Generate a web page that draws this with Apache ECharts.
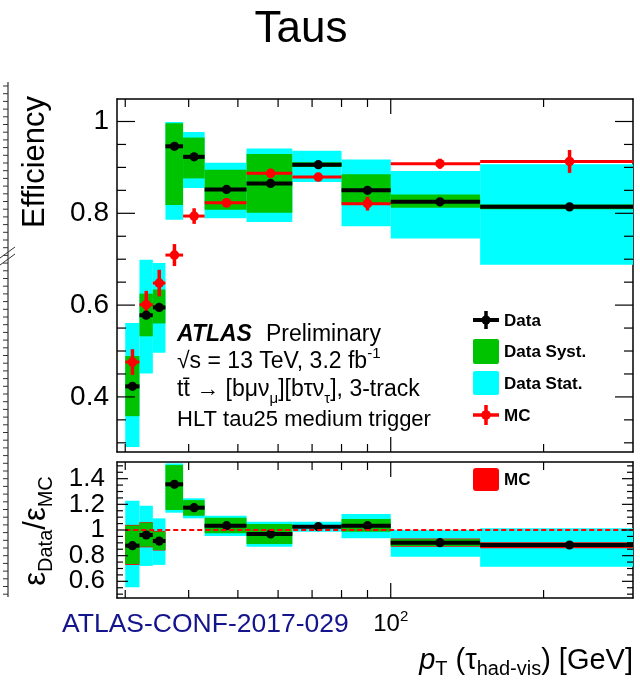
<!DOCTYPE html>
<html>
<head>
<meta charset="utf-8">
<script src="https://cdn.jsdelivr.net/npm/echarts@6/dist/echarts.min.js"></script>
<style>
  html, body { margin: 0; padding: 0; background: #fff; }
  #chart { width: 640px; height: 681px; }
</style>
</head>
<body>
<div id="chart"></div>
<script>
// ---- Tau trigger efficiency vs pT (3-track), data vs MC ----

// pT bin edges [GeV]
const binEdges = [30, 32, 34, 36, 39, 43, 52, 64, 80, 100, 150, 300];

// Efficiency (upper panel)
const dataEff = [0.423, 0.578, 0.595, 0.946, 0.923, 0.852, 0.865, 0.906, 0.850, 0.825, 0.814];
const statLo  = [0.291, 0.451, 0.496, 0.786, 0.855, 0.789, 0.781, 0.868, 0.772, 0.745, 0.688];
const statHi  = [0.561, 0.699, 0.692, 0.999, 0.977, 0.910, 0.941, 0.936, 0.917, 0.892, 0.907];
const systLo  = [0.358, 0.532, 0.560, 0.818, 0.876, 0.808, 0.801, 0.901, 0.821, 0.812, 0.809];
const systHi  = [0.489, 0.625, 0.634, 0.996, 0.965, 0.895, 0.929, 0.911, 0.885, 0.841, 0.819];
const mcEff   = [0.476, 0.601, 0.648, 0.709, 0.794, 0.823, 0.887, 0.879, 0.821, 0.908, 0.913];
const mcErr   = [0.028, 0.030, 0.029, 0.024, 0.017, 0.010, 0.010, 0.009, 0.015, 0.011, 0.025];

// Data / MC ratio (lower panel)
const ratio    = [0.878, 0.961, 0.914, 1.356, 1.174, 1.034, 0.969, 1.026, 1.034, 0.901, 0.883];
const rStatLo  = [0.554, 0.720, 0.728, 1.135, 1.091, 0.953, 0.870, 0.987, 0.935, 0.792, 0.714];
const rStatHi  = [1.228, 1.189, 1.091, 1.519, 1.247, 1.111, 1.065, 1.065, 1.125, 1.000, 1.013];
const rSystLo  = [0.735, 0.870, 0.844, 1.156, 1.111, 0.974, 0.891, 1.016, 0.987, 0.875, 0.878];
const rSystHi  = [1.035, 1.057, 0.987, 1.506, 1.233, 1.096, 1.047, 1.036, 1.086, 0.928, 0.888];
const rMcLo    = [0.728, 0.865, 0.840, 1.348, 1.166, 1.026, 0.961, 1.018, 1.026, 0.870, 0.858];
const rMcHi    = [1.040, 1.061, 0.992, 1.364, 1.182, 1.042, 0.977, 1.034, 1.042, 0.933, 0.904];
const unityLevel = 1;

// Axis ranges and tick values
const X_MIN = 28.9, X_MAX = 300;
const EFF_MIN = 0.28, EFF_MAX = 1.049;
const RATIO_MIN = 0.47, RATIO_MAX = 1.53;
const xMajorTicks = [100];
const xMinorTicks = [30, 40, 50, 60, 70, 80, 90, 200];
const effMajorTicks = [0.4, 0.6, 0.8, 1];
const effMinorTicks = [0.3, 0.35, 0.45, 0.5, 0.55, 0.65, 0.7, 0.75, 0.85, 0.9, 0.95];
const ratioMajorTicks = [0.6, 0.8, 1, 1.2, 1.4];
const ratioMinorTicks = [0.5, 0.55, 0.65, 0.7, 0.75, 0.85, 0.9, 0.95, 1.05, 1.1, 1.15, 1.25, 1.3, 1.35, 1.45, 1.5];

const FONT = '"Liberation Sans", Arial, Helvetica, sans-serif';
const CYAN = '#00ffff', GREEN = '#00c300', RED = '#ff0000', BLACK = '#000000';
const FRAME_W = 1.5, TICK_W = 1.2;

// bottom (labelled) and top x axes of one panel
function xAxes(gridIndex, withLabel) {
  const base = {
    gridIndex, type: 'log', logBase: 10, min: X_MIN, max: X_MAX,
    splitLine: { show: false }, axisTick: { show: false },
    axisLine: { show: true, onZero: false, lineStyle: { color: BLACK, width: FRAME_W } }
  };
  const label = withLabel ? {
    show: true, customValues: xMajorTicks, margin: 11,
    fontFamily: FONT, fontSize: 24, color: BLACK, lineHeight: 30,
    formatter: v => Math.round(Math.log10(v)) === 2 ? '10{sup|2}' : String(v),
    rich: { sup: { fontFamily: FONT, fontSize: 15, lineHeight: 16, verticalAlign: 'top', color: BLACK } }
  } : { show: false };
  return [
    Object.assign({}, base, { position: 'bottom', axisLabel: label }),
    Object.assign({}, base, { position: 'top', axisLabel: { show: false } })
  ];
}

// left and right y axes of one panel (frame lines only)
function yAxes(gridIndex, min, max) {
  const base = {
    gridIndex, type: 'value', min, max,
    splitLine: { show: false }, axisTick: { show: false }, axisLabel: { show: false },
    axisLine: { show: true, onZero: false, lineStyle: { color: BLACK, width: FRAME_W } }
  };
  return [
    Object.assign({}, base, { position: 'left' }),
    Object.assign({}, base, { position: 'right' })
  ];
}

function bins() {
  return binEdges.slice(0, -1).map((lo, i) => [lo, binEdges[i + 1]]);
}

// filled rectangle per bin between lo and hi
function bandSeries(name, axisIdx, lo, hi, color) {
  return {
    type: 'custom', name, silent: true,
    xAxisIndex: axisIdx, yAxisIndex: axisIdx,
    data: bins().map((b, i) => [b[0], b[1], lo[i], hi[i]]),
    encode: { x: [0, 1], y: [2, 3] },
    renderItem(params, api) {
      const tl = api.coord([api.value(0), api.value(3)]);
      const br = api.coord([api.value(1), api.value(2)]);
      return {
        type: 'rect',
        shape: { x: tl[0], y: tl[1], width: br[0] - tl[0], height: br[1] - tl[1] },
        style: { fill: color }
      };
    }
  };
}

// horizontal bin-width bar, optional vertical error bar, and marker at bin centre
function pointSeries(name, axisIdx, vals, errs, color, barWidth, errWidth, radius) {
  return {
    type: 'custom', name, silent: true,
    xAxisIndex: axisIdx, yAxisIndex: axisIdx,
    data: bins().map((b, i) => [b[0], b[1], vals[i], errs ? errs[i] : 0]),
    encode: { x: [0, 1], y: 2 },
    renderItem(params, api) {
      const x0 = api.value(0), x1 = api.value(1), y = api.value(2), e = api.value(3);
      const xc = (x0 + x1) / 2;
      const pl = api.coord([x0, y]), pr = api.coord([x1, y]), pc = api.coord([xc, y]);
      const children = [{
        type: 'line', shape: { x1: pl[0], y1: pl[1], x2: pr[0], y2: pr[1] },
        style: { stroke: color, lineWidth: barWidth }
      }];
      if (e > 0) {
        const pt = api.coord([xc, y + e]), pb = api.coord([xc, y - e]);
        children.push({
          type: 'line', shape: { x1: pt[0], y1: pt[1], x2: pb[0], y2: pb[1] },
          style: { stroke: color, lineWidth: errWidth }
        });
      }
      children.push({ type: 'circle', shape: { cx: pc[0], cy: pc[1], r: radius }, style: { fill: color } });
      return { type: 'group', children };
    }
  };
}

// inward ticks on bottom and top frame edges
function xTickSeries(axisIdx, vals, len, yLo, yHi) {
  return {
    type: 'custom', silent: true, z: 5,
    xAxisIndex: axisIdx, yAxisIndex: axisIdx,
    data: vals.map(v => [v, yLo, yHi]),
    encode: { x: 0, y: [1, 2] },
    renderItem(params, api) {
      const b = api.coord([api.value(0), api.value(1)]);
      const t = api.coord([api.value(0), api.value(2)]);
      const st = { stroke: BLACK, lineWidth: TICK_W };
      return { type: 'group', children: [
        { type: 'line', shape: { x1: b[0], y1: b[1], x2: b[0], y2: b[1] - len }, style: st },
        { type: 'line', shape: { x1: t[0], y1: t[1], x2: t[0], y2: t[1] + len }, style: st }
      ] };
    }
  };
}

// inward ticks on left and right frame edges
function yTickSeries(axisIdx, vals, len) {
  return {
    type: 'custom', silent: true, z: 5,
    xAxisIndex: axisIdx, yAxisIndex: axisIdx,
    data: vals.map(v => [X_MIN, X_MAX, v]),
    encode: { x: [0, 1], y: 2 },
    renderItem(params, api) {
      const l = api.coord([api.value(0), api.value(2)]);
      const r = api.coord([api.value(1), api.value(2)]);
      const st = { stroke: BLACK, lineWidth: TICK_W };
      return { type: 'group', children: [
        { type: 'line', shape: { x1: l[0], y1: l[1], x2: l[0] + len, y2: l[1] }, style: st },
        { type: 'line', shape: { x1: r[0], y1: r[1], x2: r[0] - len, y2: r[1] }, style: st }
      ] };
    }
  };
}

// y tick labels, right-aligned just outside the left frame edge
function yLabelSeries(axisIdx, vals, fontSize, gap) {
  return {
    type: 'custom', silent: true, z: 5, clip: false,
    xAxisIndex: axisIdx, yAxisIndex: axisIdx,
    data: vals.map(v => [X_MIN, v]),
    encode: { x: 0, y: 1 },
    renderItem(params, api) {
      const v = api.value(1);
      const p = api.coord([api.value(0), v]);
      return {
        type: 'text', x: p[0] - gap, y: p[1],
        style: { text: String(v), fontFamily: FONT, fontSize, fill: BLACK, align: 'right', verticalAlign: 'middle' }
      };
    }
  };
}

const MAIN = 0, RATIO = 2;

const subRich = {
  b: { fontFamily: FONT, fontSize: 23, lineHeight: 32, fill: BLACK },
  sub: { fontFamily: FONT, fontSize: 15, lineHeight: 12, verticalAlign: 'bottom', fill: BLACK },
  sup: { fontFamily: FONT, fontSize: 15, lineHeight: 14, verticalAlign: 'top', fill: BLACK }
};

// fragment of the neighbouring panel frame at the left edge
const edgeTicks = [];
for (let y = 86; y < 596; y += 7.7) {
  edgeTicks.push({ type: 'line', shape: { x1: 3, y1: y, x2: 8, y2: y }, style: { stroke: '#333', lineWidth: 1 } });
}

const option = {
  backgroundColor: '#ffffff',
  animation: false,
  grid: [
    { left: 117, top: 99, width: 516, height: 353, outerBoundsMode: 'none' },
    { left: 117, top: 462, width: 516, height: 136, outerBoundsMode: 'none' }
  ],
  xAxis: [...xAxes(0, false), ...xAxes(1, true)],
  yAxis: [...yAxes(0, EFF_MIN, EFF_MAX), ...yAxes(1, RATIO_MIN, RATIO_MAX)],
  series: [
    bandSeries('Data Stat.', MAIN, statLo, statHi, CYAN),
    bandSeries('Data Syst.', MAIN, systLo, systHi, GREEN),
    pointSeries('MC', MAIN, mcEff, mcErr, RED, 3, 3.5, 4.8),
    pointSeries('Data', MAIN, dataEff, null, BLACK, 4, 0, 4.6),
    {
      type: 'line', name: 'unity', silent: true, xAxisIndex: RATIO, yAxisIndex: RATIO,
      data: [[binEdges[0], unityLevel], [binEdges[binEdges.length - 1], unityLevel]],
      showSymbol: false, symbol: 'none',
      lineStyle: { color: RED, width: 2, type: [5, 3] }
    },
    bandSeries('Ratio Stat.', RATIO, rStatLo, rStatHi, CYAN),
    bandSeries('Ratio MC', RATIO, rMcLo, rMcHi, RED),
    bandSeries('Ratio Syst.', RATIO, rSystLo, rSystHi, GREEN),
    pointSeries('Ratio', RATIO, ratio, null, BLACK, 4, 0, 4.6),
    // frame ticks and y labels
    xTickSeries(MAIN, xMajorTicks, 15, EFF_MIN, EFF_MAX),
    xTickSeries(MAIN, xMinorTicks, 8, EFF_MIN, EFF_MAX),
    yTickSeries(MAIN, effMajorTicks, 18),
    yTickSeries(MAIN, effMinorTicks, 9),
    yLabelSeries(MAIN, effMajorTicks, 28, 8),
    xTickSeries(RATIO, xMajorTicks, 15, RATIO_MIN, RATIO_MAX),
    xTickSeries(RATIO, xMinorTicks, 8, RATIO_MIN, RATIO_MAX),
    yTickSeries(RATIO, ratioMajorTicks, 11),
    yTickSeries(RATIO, ratioMinorTicks, 6),
    yLabelSeries(RATIO, ratioMajorTicks, 26, 12)
  ],
  graphic: [
    // title
    { type: 'text', x: 301, y: 30, style: { text: 'Taus', fontFamily: FONT, fontSize: 44, fill: BLACK, align: 'center', verticalAlign: 'middle' } },
    // y titles
    { type: 'text', x: 35, y: 162, rotation: Math.PI / 2,
      style: { text: 'Efficiency', fontFamily: FONT, fontSize: 31, fill: BLACK, align: 'center', verticalAlign: 'middle' } },
    { type: 'text', x: 36, y: 531, rotation: Math.PI / 2,
      style: {
        text: '{e|ε}{s|Data}{e|/ε}{s|MC}', align: 'center', verticalAlign: 'middle',
        rich: {
          e: { fontFamily: FONT, fontSize: 31, lineHeight: 40, fill: BLACK },
          s: { fontFamily: FONT, fontSize: 20, lineHeight: 18, verticalAlign: 'bottom', fill: BLACK }
        }
      } },
    // x title
    { type: 'text', x: 633, y: 661,
      style: {
        text: '{i|p}{s|T}{n| (τ}{s|had-vis}{n|) [GeV]}', align: 'right', verticalAlign: 'middle',
        rich: {
          i: { fontFamily: FONT, fontSize: 29, fontStyle: 'italic', lineHeight: 36, fill: BLACK },
          n: { fontFamily: FONT, fontSize: 29, lineHeight: 36, fill: BLACK },
          s: { fontFamily: FONT, fontSize: 20, lineHeight: 14, verticalAlign: 'bottom', fill: BLACK }
        }
      } },
    // reference note
    { type: 'text', x: 62, y: 625,
      style: { text: 'ATLAS-CONF-2017-029', fontFamily: FONT, fontSize: 26.5, fill: '#14148c', align: 'left', verticalAlign: 'middle' } },
    // ATLAS label block
    { type: 'text', x: 177, y: 335,
      style: {
        text: '{a|ATLAS}{p|Preliminary}', align: 'left', verticalAlign: 'middle',
        rich: {
          a: { fontFamily: FONT, fontSize: 23, fontWeight: 'bold', fontStyle: 'italic', padding: [0, 14, 0, 0], fill: BLACK },
          p: { fontFamily: FONT, fontSize: 23, fill: BLACK }
        }
      } },
    { type: 'text', x: 177, y: 362,
      style: { text: '{b|√s = 13 TeV, 3.2 fb}{sup|-1}', align: 'left', verticalAlign: 'middle', rich: subRich } },
    { type: 'text', x: 177, y: 390,
      style: { text: '{b|tt\u0304 → [bμν}{sub|μ}{b|][bτν}{sub|τ}{b|], 3-track}', align: 'left', verticalAlign: 'middle', rich: subRich } },
    { type: 'text', x: 177, y: 420,
      style: { text: 'HLT tau25 medium trigger', fontFamily: FONT, fontSize: 22, fill: BLACK, align: 'left', verticalAlign: 'middle' } },
    // legend, upper panel
    { type: 'line', shape: { x1: 473, y1: 320, x2: 499, y2: 320 }, style: { stroke: BLACK, lineWidth: 4 } },
    { type: 'line', shape: { x1: 486, y1: 311, x2: 486, y2: 329 }, style: { stroke: BLACK, lineWidth: 3.5 } },
    { type: 'circle', shape: { cx: 486, cy: 320, r: 4.6 }, style: { fill: BLACK } },
    { type: 'rect', shape: { x: 473, y: 339, width: 26, height: 25, r: 2 }, style: { fill: GREEN } },
    { type: 'rect', shape: { x: 473, y: 371, width: 26, height: 24, r: 2 }, style: { fill: CYAN } },
    { type: 'line', shape: { x1: 473, y1: 415, x2: 499, y2: 415 }, style: { stroke: RED, lineWidth: 3.5 } },
    { type: 'line', shape: { x1: 486, y1: 405, x2: 486, y2: 425 }, style: { stroke: RED, lineWidth: 3.5 } },
    { type: 'circle', shape: { cx: 486, cy: 415, r: 4.8 }, style: { fill: RED } },
    { type: 'text', x: 504, y: 321, style: { text: 'Data', fontFamily: FONT, fontSize: 17, fontWeight: 'bold', fill: BLACK, verticalAlign: 'middle' } },
    { type: 'text', x: 504, y: 352, style: { text: 'Data Syst.', fontFamily: FONT, fontSize: 17, fontWeight: 'bold', fill: BLACK, verticalAlign: 'middle' } },
    { type: 'text', x: 504, y: 384, style: { text: 'Data Stat.', fontFamily: FONT, fontSize: 17, fontWeight: 'bold', fill: BLACK, verticalAlign: 'middle' } },
    { type: 'text', x: 504, y: 416, style: { text: 'MC', fontFamily: FONT, fontSize: 17, fontWeight: 'bold', fill: BLACK, verticalAlign: 'middle' } },
    // legend, ratio panel
    { type: 'rect', shape: { x: 473, y: 468, width: 26, height: 23, r: 3 }, style: { fill: RED } },
    { type: 'text', x: 504, y: 480, style: { text: 'MC', fontFamily: FONT, fontSize: 17, fontWeight: 'bold', fill: BLACK, verticalAlign: 'middle' } },
    // neighbouring panel edge
    { type: 'line', shape: { x1: 8, y1: 82, x2: 8, y2: 597 }, style: { stroke: '#333', lineWidth: 1.2 } },
    ...edgeTicks,
    { type: 'line', shape: { x1: 0, y1: 258, x2: 15, y2: 247 }, style: { stroke: '#333', lineWidth: 1 } },
    { type: 'line', shape: { x1: 0, y1: 265, x2: 15, y2: 254 }, style: { stroke: '#333', lineWidth: 1 } }
  ]
};

const chart = echarts.init(document.getElementById('chart'));
chart.setOption(option);
</script>
</body>
</html>
